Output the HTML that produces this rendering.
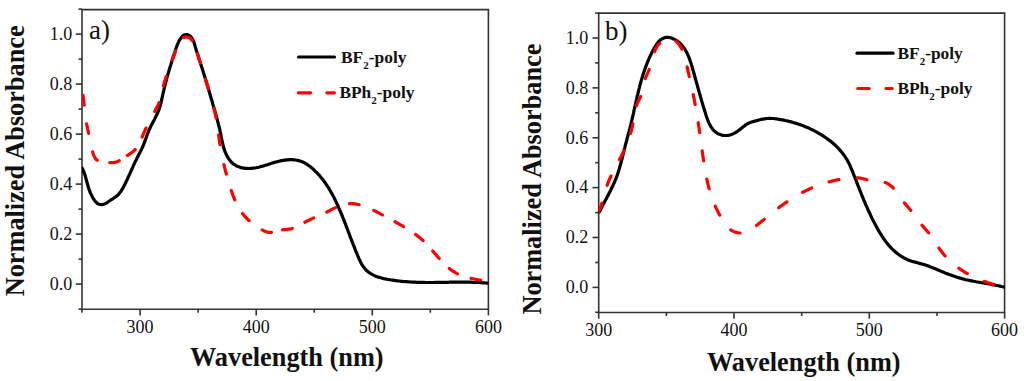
<!DOCTYPE html>
<html><head><meta charset="utf-8"><style>
html,body{margin:0;padding:0;background:#fff;width:1024px;height:381px;overflow:hidden}
svg{display:block}
text{font-family:"Liberation Serif",serif;fill:#111}
.tl{font-size:18px}
.ax{font-size:26.3px;font-weight:bold}
.lg{font-size:17.4px;font-weight:bold}
.pl{font-size:27px}
.bk{fill:none;stroke:#000;stroke-width:3.2;stroke-linecap:round;stroke-linejoin:round}
.rd{fill:none;stroke:#ff0000;stroke-width:3.2;stroke-linecap:round;stroke-linejoin:round}
</style></head><body>
<svg width="1024" height="381" viewBox="0 0 1024 381">
<defs><clipPath id="cl"><rect x="82" y="9" width="406.4" height="300.5"/></clipPath><clipPath id="cr"><rect x="598.7" y="13" width="405.9" height="299.5"/></clipPath></defs>
<rect width="1024" height="381" fill="#fff"/>
<path d="M82,9.6 H488.4 V309.2 H82 Z" fill="none" stroke="#333" stroke-width="1.6"/>
<path d="M78.5,309.1 H82" stroke="#333" stroke-width="1.6"/>
<path d="M75.8,284.1 H82" stroke="#333" stroke-width="1.6"/>
<text x="72.3" y="289.9" text-anchor="end" class="tl">0.0</text>
<path d="M78.5,259.1 H82" stroke="#333" stroke-width="1.6"/>
<path d="M75.8,234.1 H82" stroke="#333" stroke-width="1.6"/>
<text x="72.3" y="239.9" text-anchor="end" class="tl">0.2</text>
<path d="M78.5,209.1 H82" stroke="#333" stroke-width="1.6"/>
<path d="M75.8,184.1 H82" stroke="#333" stroke-width="1.6"/>
<text x="72.3" y="189.9" text-anchor="end" class="tl">0.4</text>
<path d="M78.5,159.1 H82" stroke="#333" stroke-width="1.6"/>
<path d="M75.8,134.1 H82" stroke="#333" stroke-width="1.6"/>
<text x="72.3" y="139.9" text-anchor="end" class="tl">0.6</text>
<path d="M78.5,109.1 H82" stroke="#333" stroke-width="1.6"/>
<path d="M75.8,84.1 H82" stroke="#333" stroke-width="1.6"/>
<text x="72.3" y="89.9" text-anchor="end" class="tl">0.8</text>
<path d="M78.5,59.1 H82" stroke="#333" stroke-width="1.6"/>
<path d="M75.8,34.1 H82" stroke="#333" stroke-width="1.6"/>
<text x="72.3" y="39.9" text-anchor="end" class="tl">1.0</text>
<path d="M78.5,9.1 H82" stroke="#333" stroke-width="1.6"/>
<path d="M140.1,309.2 V315.4" stroke="#333" stroke-width="1.6"/>
<text x="140.1" y="332.9" text-anchor="middle" class="tl">300</text>
<path d="M256.2,309.2 V315.4" stroke="#333" stroke-width="1.6"/>
<text x="256.2" y="332.9" text-anchor="middle" class="tl">400</text>
<path d="M372.3,309.2 V315.4" stroke="#333" stroke-width="1.6"/>
<text x="372.3" y="332.9" text-anchor="middle" class="tl">500</text>
<path d="M488.4,309.2 V315.4" stroke="#333" stroke-width="1.6"/>
<text x="488.4" y="332.9" text-anchor="middle" class="tl">600</text>
<path d="M82.0,309.2 V312.7" stroke="#333" stroke-width="1.6"/>
<path d="M198.1,309.2 V312.7" stroke="#333" stroke-width="1.6"/>
<path d="M314.2,309.2 V312.7" stroke="#333" stroke-width="1.6"/>
<path d="M430.3,309.2 V312.7" stroke="#333" stroke-width="1.6"/>
<path d="M598.7,13.1 H1004.6 V312.5 H598.7 Z" fill="none" stroke="#333" stroke-width="1.6"/>
<path d="M595.2,312.3 H598.7" stroke="#333" stroke-width="1.6"/>
<path d="M592.5,287.4 H598.7" stroke="#333" stroke-width="1.6"/>
<text x="588.3" y="293.2" text-anchor="end" class="tl">0.0</text>
<path d="M595.2,262.5 H598.7" stroke="#333" stroke-width="1.6"/>
<path d="M592.5,237.5 H598.7" stroke="#333" stroke-width="1.6"/>
<text x="588.3" y="243.3" text-anchor="end" class="tl">0.2</text>
<path d="M595.2,212.6 H598.7" stroke="#333" stroke-width="1.6"/>
<path d="M592.5,187.6 H598.7" stroke="#333" stroke-width="1.6"/>
<text x="588.3" y="193.4" text-anchor="end" class="tl">0.4</text>
<path d="M595.2,162.7 H598.7" stroke="#333" stroke-width="1.6"/>
<path d="M592.5,137.8 H598.7" stroke="#333" stroke-width="1.6"/>
<text x="588.3" y="143.6" text-anchor="end" class="tl">0.6</text>
<path d="M595.2,112.8 H598.7" stroke="#333" stroke-width="1.6"/>
<path d="M592.5,87.9 H598.7" stroke="#333" stroke-width="1.6"/>
<text x="588.3" y="93.7" text-anchor="end" class="tl">0.8</text>
<path d="M595.2,62.9 H598.7" stroke="#333" stroke-width="1.6"/>
<path d="M592.5,38.0 H598.7" stroke="#333" stroke-width="1.6"/>
<text x="588.3" y="43.8" text-anchor="end" class="tl">1.0</text>
<path d="M595.2,13.1 H598.7" stroke="#333" stroke-width="1.6"/>
<path d="M598.7,312.5 V318.7" stroke="#333" stroke-width="1.6"/>
<text x="598.7" y="336.3" text-anchor="middle" class="tl">300</text>
<path d="M734.0,312.5 V318.7" stroke="#333" stroke-width="1.6"/>
<text x="734.0" y="336.3" text-anchor="middle" class="tl">400</text>
<path d="M869.3,312.5 V318.7" stroke="#333" stroke-width="1.6"/>
<text x="869.3" y="336.3" text-anchor="middle" class="tl">500</text>
<path d="M1004.6,312.5 V318.7" stroke="#333" stroke-width="1.6"/>
<text x="1004.6" y="336.3" text-anchor="middle" class="tl">600</text>
<path d="M666.4,312.5 V316.0" stroke="#333" stroke-width="1.6"/>
<path d="M801.7,312.5 V316.0" stroke="#333" stroke-width="1.6"/>
<path d="M937.0,312.5 V316.0" stroke="#333" stroke-width="1.6"/>
<text class="pl" x="89" y="39">a)</text>
<text class="pl" x="605" y="39.5">b)</text>
<text class="ax" x="190" y="366.2">Wavelength (nm)</text>
<text class="ax" x="707" y="371.3">Wavelength (nm)</text>
<text class="ax" transform="translate(24.0,296.3) rotate(-90)">Normalized Absorbance</text>
<text class="ax" transform="translate(540.7,314.6) rotate(-90)">Normalized Absorbance</text>
<path class="bk" d="M298.5,57 H334.5"/>
<path class="rd" stroke-dasharray="12.3 16.2" d="M298.4,92.8 H334.4"/>
<text class="lg" x="341" y="62.6">BF<tspan font-size="11" dy="6">2</tspan><tspan dy="-6">-poly</tspan></text>
<text class="lg" x="339.4" y="98.1">BPh<tspan font-size="11" dy="6">2</tspan><tspan dy="-6">-poly</tspan></text>
<path class="bk" d="M857,53.2 H893"/>
<path class="rd" stroke-dasharray="11.4 16.8" d="M857.8,88.5 H892.2"/>
<text class="lg" x="897.4" y="58.6">BF<tspan font-size="11" dy="6">2</tspan><tspan dy="-6">-poly</tspan></text>
<text class="lg" x="897.4" y="94">BPh<tspan font-size="11" dy="6">2</tspan><tspan dy="-6">-poly</tspan></text>
<g clip-path="url(#cl)"><path class="bk" d="M82.0,167.8 L82.7,169.2 L83.3,170.6 L83.9,172.0 L84.4,173.4 L84.9,174.8 L85.3,176.2 L85.7,177.7 L86.1,179.1 L86.5,180.6 L86.9,182.0 L87.3,183.5 L87.7,184.9 L88.1,186.3 L88.5,187.8 L89.0,189.2 L89.5,190.6 L90.0,192.0 L90.6,193.4 L91.3,194.8 L92.0,196.1 L92.7,197.5 L93.5,198.8 L94.4,200.2 L95.4,201.4 L96.4,202.6 L97.5,203.5 L98.8,204.2 L100.1,204.5 L101.5,204.6 L103.0,204.4 L104.4,204.0 L105.8,203.4 L107.1,202.6 L108.4,201.7 L109.7,200.8 L111.0,199.9 L112.3,199.1 L113.6,198.2 L114.8,197.4 L116.0,196.6 L117.1,195.7 L118.2,194.7 L119.2,193.6 L120.1,192.4 L121.0,191.2 L121.8,189.9 L122.6,188.6 L123.3,187.3 L124.0,185.9 L124.7,184.6 L125.4,183.2 L126.1,181.8 L126.7,180.5 L127.4,179.1 L128.0,177.7 L128.6,176.4 L129.2,175.0 L129.9,173.6 L130.5,172.2 L131.1,170.9 L131.7,169.5 L132.3,168.1 L132.9,166.8 L133.5,165.4 L134.2,164.0 L134.8,162.7 L135.4,161.3 L136.1,160.0 L136.8,158.6 L137.5,157.3 L138.1,156.0 L138.8,154.6 L139.5,153.3 L140.2,151.9 L140.9,150.6 L141.6,149.2 L142.2,147.9 L142.8,146.5 L143.4,145.1 L144.0,143.7 L144.5,142.3 L145.0,140.9 L145.5,139.5 L146.0,138.1 L146.5,136.6 L147.0,135.2 L147.5,133.8 L148.1,132.4 L148.7,131.0 L149.2,129.7 L149.9,128.3 L150.5,126.9 L151.2,125.6 L151.9,124.2 L152.6,122.9 L153.3,121.6 L154.0,120.2 L154.7,118.9 L155.4,117.5 L156.0,116.2 L156.7,114.8 L157.3,113.5 L157.9,112.1 L158.5,110.7 L159.1,109.3 L159.6,107.9 L160.0,106.5 L160.4,105.0 L160.8,103.6 L161.2,102.1 L161.5,100.6 L161.8,99.2 L162.1,97.7 L162.5,96.2 L162.8,94.7 L163.1,93.2 L163.5,91.8 L163.8,90.3 L164.1,88.8 L164.5,87.4 L164.9,85.9 L165.2,84.5 L165.6,83.0 L166.0,81.6 L166.4,80.1 L166.7,78.7 L167.1,77.2 L167.5,75.8 L167.9,74.3 L168.4,72.9 L168.8,71.4 L169.2,70.0 L169.6,68.6 L170.0,67.1 L170.5,65.7 L170.9,64.3 L171.4,62.8 L171.8,61.4 L172.2,59.9 L172.7,58.5 L173.2,57.1 L173.6,55.6 L174.1,54.2 L174.6,52.8 L175.1,51.3 L175.5,49.9 L176.0,48.5 L176.5,47.0 L177.0,45.6 L177.6,44.2 L178.2,42.8 L178.8,41.4 L179.6,40.0 L180.4,38.7 L181.4,37.4 L182.5,36.2 L183.6,35.3 L184.9,34.8 L186.2,34.6 L187.6,34.7 L188.8,35.2 L190.0,35.9 L190.9,36.8 L191.8,37.9 L192.5,39.2 L193.2,40.5 L193.8,42.0 L194.3,43.5 L194.8,45.1 L195.2,46.7 L195.7,48.2 L196.1,49.8 L196.6,51.3 L197.1,52.7 L197.5,54.2 L198.0,55.6 L198.4,57.0 L198.9,58.5 L199.3,59.9 L199.8,61.3 L200.3,62.6 L200.7,64.0 L201.2,65.4 L201.6,66.8 L202.1,68.2 L202.5,69.6 L203.0,71.1 L203.4,72.5 L203.9,73.9 L204.3,75.3 L204.7,76.8 L205.2,78.2 L205.6,79.6 L206.1,81.1 L206.5,82.5 L206.9,84.0 L207.4,85.4 L207.8,86.9 L208.2,88.3 L208.7,89.8 L209.1,91.2 L209.5,92.7 L210.0,94.2 L210.4,95.6 L210.8,97.1 L211.2,98.5 L211.7,100.0 L212.1,101.4 L212.5,102.9 L212.9,104.4 L213.3,105.8 L213.8,107.3 L214.2,108.7 L214.6,110.2 L215.0,111.6 L215.4,113.1 L215.8,114.5 L216.2,115.9 L216.6,117.4 L217.0,118.8 L217.4,120.3 L217.8,121.7 L218.2,123.1 L218.5,124.6 L218.9,126.0 L219.3,127.5 L219.6,128.9 L219.9,130.4 L220.2,131.9 L220.6,133.4 L220.9,134.8 L221.1,136.3 L221.4,137.8 L221.7,139.3 L222.0,140.8 L222.3,142.3 L222.7,143.7 L223.0,145.2 L223.4,146.7 L223.8,148.1 L224.3,149.5 L224.8,151.0 L225.3,152.4 L225.9,153.7 L226.5,155.1 L227.3,156.4 L228.0,157.7 L228.9,159.0 L229.8,160.2 L230.7,161.4 L231.8,162.5 L232.9,163.5 L234.0,164.4 L235.3,165.2 L236.6,166.0 L238.0,166.6 L239.4,167.1 L240.9,167.6 L242.4,167.9 L243.9,168.2 L245.4,168.3 L246.9,168.4 L248.5,168.5 L250.0,168.4 L251.4,168.4 L252.9,168.2 L254.4,168.0 L255.9,167.8 L257.3,167.5 L258.8,167.2 L260.2,166.8 L261.7,166.4 L263.1,166.0 L264.5,165.6 L266.0,165.1 L267.4,164.7 L268.9,164.2 L270.3,163.7 L271.7,163.3 L273.2,162.8 L274.6,162.4 L276.1,162.0 L277.5,161.6 L279.0,161.2 L280.5,160.9 L282.0,160.6 L283.5,160.3 L285.0,160.1 L286.5,159.9 L288.0,159.8 L289.5,159.7 L291.0,159.7 L292.5,159.7 L294.0,159.8 L295.5,160.0 L297.0,160.3 L298.5,160.6 L299.9,161.0 L301.3,161.4 L302.7,162.0 L304.1,162.6 L305.4,163.3 L306.7,164.1 L307.9,165.0 L309.2,165.9 L310.4,166.8 L311.5,167.8 L312.7,168.7 L313.8,169.8 L314.9,170.8 L316.0,171.9 L317.1,172.9 L318.1,174.0 L319.1,175.1 L320.1,176.3 L321.0,177.4 L322.0,178.6 L322.9,179.8 L323.8,181.0 L324.7,182.2 L325.6,183.4 L326.4,184.6 L327.2,185.9 L328.1,187.1 L328.9,188.4 L329.6,189.7 L330.4,191.0 L331.1,192.3 L331.9,193.6 L332.6,194.9 L333.3,196.3 L334.0,197.6 L334.7,199.0 L335.3,200.3 L336.0,201.7 L336.6,203.1 L337.3,204.4 L337.9,205.8 L338.5,207.2 L339.1,208.6 L339.7,210.0 L340.3,211.3 L340.9,212.7 L341.5,214.1 L342.1,215.5 L342.6,216.9 L343.2,218.3 L343.7,219.7 L344.3,221.1 L344.8,222.5 L345.4,223.9 L345.9,225.3 L346.4,226.7 L347.0,228.1 L347.5,229.5 L348.0,230.9 L348.5,232.3 L349.1,233.7 L349.6,235.1 L350.1,236.5 L350.6,237.9 L351.2,239.2 L351.7,240.6 L352.2,242.0 L352.8,243.4 L353.3,244.8 L353.9,246.1 L354.4,247.5 L355.0,248.9 L355.5,250.4 L356.1,251.8 L356.7,253.2 L357.3,254.6 L357.9,256.1 L358.5,257.5 L359.1,259.0 L359.8,260.4 L360.5,261.9 L361.2,263.2 L362.0,264.6 L362.8,265.9 L363.7,267.1 L364.6,268.3 L365.5,269.4 L366.6,270.5 L367.6,271.4 L368.8,272.3 L369.9,273.2 L371.2,273.9 L372.4,274.6 L373.8,275.3 L375.1,275.9 L376.5,276.4 L377.9,276.9 L379.3,277.4 L380.8,277.8 L382.2,278.2 L383.7,278.6 L385.2,278.9 L386.7,279.2 L388.2,279.5 L389.8,279.7 L391.3,280.0 L392.8,280.2 L394.3,280.4 L395.8,280.6 L397.3,280.8 L398.8,281.0 L400.3,281.2 L401.8,281.3 L403.4,281.5 L404.9,281.6 L406.4,281.7 L407.9,281.8 L409.4,281.9 L410.9,282.0 L412.4,282.1 L413.9,282.2 L415.4,282.2 L416.9,282.3 L418.4,282.3 L419.9,282.4 L421.4,282.4 L422.9,282.4 L424.4,282.4 L425.9,282.5 L427.4,282.5 L428.9,282.5 L430.4,282.5 L431.9,282.5 L433.4,282.5 L434.9,282.4 L436.4,282.4 L437.8,282.4 L439.3,282.4 L440.8,282.4 L442.3,282.4 L443.8,282.3 L445.3,282.3 L446.8,282.3 L448.3,282.3 L449.8,282.2 L451.3,282.2 L452.8,282.2 L454.3,282.2 L455.8,282.2 L457.3,282.2 L458.8,282.1 L460.3,282.1 L461.8,282.1 L463.3,282.1 L464.8,282.2 L466.3,282.2 L467.8,282.2 L469.4,282.2 L470.9,282.2 L472.4,282.3 L473.9,282.3 L475.4,282.4 L476.9,282.4 L478.4,282.5 L479.9,282.6 L481.4,282.7 L483.0,282.8 L484.5,282.9 L486.0,283.0 L487.5,283.1"/>
<path class="rd" stroke-dasharray="9.80 18.83 9.80 18.84 9.80 13.02 9.80 9.63 9.80 14.42 9.80 18.85 9.80 17.32 9.80 17.37 9.80 16.14 9.80 14.26 9.80 17.03 9.80 20.47 9.80 17.26 9.80 20.37 9.80 17.30 9.80 15.76 9.80 15.98 9.80 11.30 9.80 14.22 9.80 14.37 9.80 14.53 9.80 15.75 9.80 14.32 9.80 14.32 9.80 14.26 9.80 14.29 9.80 14.31 9.80 760.22" stroke-dashoffset="1454.60" d="M82.3,91.0 L82.6,92.5 L82.8,94.0 L83.0,95.5 L83.2,97.0 L83.4,98.4 L83.6,99.9 L83.8,101.4 L83.9,102.9 L84.1,104.4 L84.2,105.9 L84.4,107.4 L84.5,108.9 L84.7,110.4 L84.9,111.9 L85.0,113.4 L85.2,114.9 L85.4,116.4 L85.6,117.9 L85.8,119.4 L86.1,120.9 L86.3,122.4 L86.6,123.9 L86.9,125.3 L87.2,126.8 L87.5,128.3 L87.9,129.8 L88.2,131.2 L88.5,132.7 L88.8,134.2 L89.1,135.6 L89.4,137.1 L89.7,138.5 L90.0,140.0 L90.3,141.4 L90.6,142.9 L90.9,144.4 L91.2,145.8 L91.5,147.3 L91.9,148.9 L92.3,150.4 L92.7,152.0 L93.1,153.5 L93.6,155.0 L94.3,156.4 L95.0,157.8 L95.8,159.0 L96.8,160.0 L97.9,160.8 L99.2,161.4 L100.6,161.9 L102.1,162.3 L103.6,162.5 L105.1,162.6 L106.7,162.7 L108.3,162.7 L109.8,162.7 L111.4,162.7 L112.9,162.6 L114.3,162.4 L115.8,162.1 L117.1,161.7 L118.5,161.1 L119.8,160.4 L121.1,159.7 L122.3,158.9 L123.6,158.0 L124.9,157.1 L126.1,156.3 L127.4,155.4 L128.7,154.6 L130.0,153.7 L131.3,152.9 L132.5,152.0 L133.6,151.0 L134.7,150.0 L135.7,148.9 L136.6,147.8 L137.4,146.5 L138.2,145.3 L138.9,143.9 L139.6,142.6 L140.2,141.2 L140.9,139.8 L141.5,138.4 L142.1,137.0 L142.7,135.6 L143.3,134.2 L143.9,132.8 L144.5,131.4 L145.2,130.1 L145.8,128.7 L146.4,127.3 L147.1,126.0 L147.7,124.6 L148.4,123.3 L149.0,121.9 L149.7,120.6 L150.4,119.3 L151.1,117.9 L151.8,116.6 L152.5,115.3 L153.2,113.9 L153.9,112.6 L154.7,111.3 L155.4,110.0 L156.1,108.6 L156.8,107.3 L157.5,106.0 L158.2,104.6 L158.8,103.2 L159.4,101.8 L159.9,100.4 L160.4,99.0 L160.8,97.6 L161.1,96.1 L161.5,94.7 L161.8,93.2 L162.1,91.7 L162.4,90.2 L162.7,88.8 L163.1,87.3 L163.4,85.8 L163.8,84.3 L164.2,82.9 L164.6,81.4 L165.1,80.0 L165.5,78.6 L166.0,77.1 L166.5,75.7 L167.0,74.3 L167.5,72.9 L168.1,71.4 L168.6,70.0 L169.1,68.6 L169.7,67.2 L170.2,65.8 L170.8,64.4 L171.3,63.0 L171.8,61.6 L172.3,60.2 L172.8,58.8 L173.3,57.4 L173.8,56.0 L174.3,54.6 L174.8,53.2 L175.3,51.8 L175.7,50.3 L176.2,48.8 L176.7,47.3 L177.2,45.9 L177.7,44.4 L178.3,43.0 L179.1,41.6 L180.0,40.4 L181.1,39.3 L182.3,38.3 L183.6,37.6 L185.0,37.2 L186.5,37.1 L187.9,37.2 L189.2,37.7 L190.3,38.4 L191.3,39.4 L192.2,40.5 L193.0,41.8 L193.7,43.2 L194.4,44.7 L195.0,46.2 L195.5,47.7 L196.1,49.2 L196.6,50.7 L197.0,52.2 L197.5,53.6 L198.0,55.1 L198.4,56.5 L198.8,57.9 L199.2,59.3 L199.7,60.7 L200.1,62.1 L200.5,63.5 L200.9,64.9 L201.3,66.4 L201.8,67.8 L202.2,69.2 L202.7,70.6 L203.1,72.0 L203.6,73.5 L204.0,74.9 L204.5,76.3 L205.0,77.8 L205.4,79.2 L205.9,80.7 L206.4,82.1 L206.8,83.6 L207.3,85.0 L207.8,86.5 L208.2,87.9 L208.7,89.4 L209.1,90.8 L209.6,92.3 L210.0,93.7 L210.4,95.2 L210.9,96.6 L211.3,98.1 L211.7,99.5 L212.1,101.0 L212.5,102.4 L212.9,103.9 L213.3,105.3 L213.6,106.8 L214.0,108.2 L214.3,109.7 L214.7,111.2 L215.0,112.6 L215.3,114.1 L215.6,115.5 L215.9,117.0 L216.2,118.5 L216.4,120.0 L216.7,121.4 L216.9,122.9 L217.1,124.4 L217.3,125.9 L217.6,127.4 L217.8,128.9 L218.0,130.4 L218.2,131.9 L218.4,133.4 L218.6,134.9 L218.8,136.4 L219.0,137.9 L219.2,139.4 L219.5,140.9 L219.7,142.4 L219.9,143.8 L220.2,145.3 L220.4,146.8 L220.7,148.3 L220.9,149.8 L221.2,151.3 L221.5,152.7 L221.8,154.2 L222.1,155.7 L222.4,157.2 L222.7,158.6 L223.0,160.1 L223.3,161.6 L223.6,163.1 L223.9,164.5 L224.3,166.0 L224.6,167.5 L225.0,168.9 L225.3,170.4 L225.7,171.8 L226.1,173.3 L226.5,174.7 L226.9,176.2 L227.3,177.6 L227.7,179.1 L228.1,180.5 L228.5,182.0 L229.0,183.4 L229.4,184.9 L229.9,186.3 L230.3,187.7 L230.8,189.2 L231.3,190.6 L231.8,192.0 L232.3,193.5 L232.8,194.9 L233.4,196.3 L233.9,197.7 L234.5,199.1 L235.1,200.5 L235.7,201.8 L236.4,203.2 L237.0,204.5 L237.7,205.9 L238.5,207.2 L239.2,208.5 L240.0,209.7 L240.8,211.0 L241.7,212.2 L242.5,213.4 L243.5,214.6 L244.4,215.8 L245.4,216.9 L246.4,218.0 L247.5,219.1 L248.6,220.2 L249.7,221.2 L250.8,222.2 L252.0,223.2 L253.2,224.1 L254.4,225.0 L255.7,225.9 L256.9,226.8 L258.2,227.6 L259.5,228.4 L260.8,229.2 L262.2,229.9 L263.5,230.6 L264.9,231.2 L266.3,231.7 L267.7,232.1 L269.1,232.3 L270.6,232.4 L272.0,232.3 L273.5,232.0 L275.0,231.7 L276.5,231.3 L278.0,230.9 L279.5,230.5 L281.0,230.1 L282.5,229.9 L284.1,229.7 L285.6,229.5 L287.1,229.4 L288.6,229.2 L290.0,229.0 L291.5,228.7 L292.9,228.3 L294.3,227.8 L295.6,227.3 L297.0,226.6 L298.3,225.9 L299.7,225.2 L301.0,224.5 L302.3,223.7 L303.6,223.0 L305.0,222.2 L306.3,221.5 L307.7,220.8 L309.0,220.2 L310.4,219.5 L311.8,218.9 L313.1,218.2 L314.5,217.6 L315.9,217.0 L317.3,216.4 L318.6,215.8 L320.0,215.2 L321.4,214.5 L322.7,213.9 L324.1,213.3 L325.4,212.6 L326.8,212.0 L328.1,211.3 L329.5,210.6 L330.8,209.9 L332.1,209.3 L333.5,208.6 L334.9,207.9 L336.3,207.3 L337.7,206.7 L339.1,206.1 L340.5,205.5 L342.0,205.0 L343.4,204.6 L344.9,204.2 L346.4,203.9 L347.9,203.7 L349.3,203.6 L350.8,203.5 L352.3,203.6 L353.8,203.7 L355.3,203.9 L356.8,204.2 L358.3,204.5 L359.7,204.9 L361.2,205.3 L362.6,205.7 L364.1,206.2 L365.5,206.7 L366.9,207.3 L368.3,207.8 L369.6,208.4 L371.0,209.1 L372.4,209.7 L373.7,210.4 L375.1,211.0 L376.4,211.7 L377.8,212.4 L379.1,213.1 L380.4,213.8 L381.8,214.6 L383.1,215.3 L384.4,216.0 L385.8,216.7 L387.1,217.4 L388.4,218.1 L389.7,218.8 L391.1,219.6 L392.4,220.3 L393.7,221.0 L395.0,221.7 L396.3,222.5 L397.7,223.2 L399.0,223.9 L400.3,224.7 L401.6,225.4 L402.9,226.2 L404.2,227.0 L405.5,227.7 L406.7,228.5 L408.0,229.3 L409.3,230.1 L410.5,230.9 L411.8,231.8 L413.0,232.6 L414.3,233.5 L415.5,234.4 L416.7,235.2 L417.9,236.2 L419.0,237.1 L420.2,238.1 L421.3,239.0 L422.5,240.0 L423.6,241.1 L424.6,242.1 L425.7,243.2 L426.8,244.3 L427.8,245.4 L428.8,246.5 L429.8,247.6 L430.8,248.8 L431.8,249.9 L432.8,251.1 L433.8,252.2 L434.8,253.4 L435.8,254.5 L436.8,255.7 L437.8,256.8 L438.8,258.0 L439.8,259.1 L440.8,260.2 L441.8,261.3 L442.8,262.4 L443.9,263.5 L444.9,264.5 L446.0,265.6 L447.1,266.6 L448.2,267.5 L449.4,268.5 L450.5,269.4 L451.7,270.3 L452.9,271.1 L454.2,271.9 L455.4,272.7 L456.7,273.4 L458.1,274.1 L459.4,274.7 L460.8,275.3 L462.2,275.8 L463.7,276.3 L465.1,276.8 L466.6,277.3 L468.1,277.7 L469.6,278.0 L471.1,278.4 L472.6,278.7 L474.2,279.0 L475.7,279.3 L477.2,279.5 L478.7,279.8 L480.2,280.0 L481.7,280.2 L483.1,280.4 L484.6,280.6 L486.0,280.7 L487.4,280.9"/></g>
<g clip-path="url(#cr)"><path class="bk" d="M599.5,211.8 L600.2,210.5 L600.8,209.1 L601.5,207.8 L602.2,206.4 L602.9,205.1 L603.6,203.8 L604.3,202.4 L605.0,201.1 L605.7,199.8 L606.4,198.4 L607.1,197.1 L607.8,195.7 L608.5,194.4 L609.2,193.1 L609.9,191.7 L610.6,190.4 L611.3,189.0 L611.9,187.7 L612.6,186.3 L613.2,184.9 L613.8,183.6 L614.5,182.2 L615.0,180.8 L615.6,179.4 L616.2,178.0 L616.7,176.6 L617.2,175.2 L617.7,173.8 L618.2,172.4 L618.6,170.9 L619.1,169.5 L619.5,168.1 L619.9,166.6 L620.3,165.2 L620.7,163.7 L621.1,162.3 L621.5,160.8 L621.9,159.3 L622.2,157.9 L622.6,156.4 L623.0,154.9 L623.3,153.5 L623.7,152.0 L624.0,150.6 L624.4,149.1 L624.8,147.6 L625.1,146.2 L625.5,144.7 L625.9,143.3 L626.3,141.8 L626.7,140.4 L627.0,138.9 L627.4,137.5 L627.8,136.0 L628.2,134.5 L628.6,133.1 L629.0,131.6 L629.4,130.2 L629.8,128.7 L630.1,127.3 L630.5,125.8 L630.9,124.4 L631.2,122.9 L631.6,121.4 L631.9,120.0 L632.3,118.5 L632.6,117.0 L632.9,115.6 L633.3,114.1 L633.6,112.6 L633.9,111.1 L634.2,109.7 L634.6,108.2 L634.9,106.7 L635.2,105.2 L635.6,103.8 L635.9,102.3 L636.2,100.8 L636.6,99.4 L636.9,97.9 L637.2,96.4 L637.6,94.9 L637.9,93.5 L638.3,92.0 L638.6,90.5 L639.0,89.1 L639.4,87.6 L639.7,86.2 L640.1,84.7 L640.5,83.3 L640.9,81.8 L641.3,80.4 L641.7,78.9 L642.2,77.5 L642.6,76.0 L643.0,74.6 L643.5,73.2 L644.0,71.8 L644.5,70.3 L645.0,68.9 L645.5,67.5 L646.0,66.1 L646.5,64.7 L647.1,63.3 L647.6,61.9 L648.2,60.5 L648.8,59.1 L649.4,57.7 L650.0,56.4 L650.7,55.0 L651.4,53.6 L652.0,52.3 L652.7,50.9 L653.5,49.6 L654.2,48.2 L655.0,46.9 L655.8,45.6 L656.6,44.3 L657.5,43.1 L658.4,41.9 L659.5,40.8 L660.6,39.8 L661.9,39.0 L663.2,38.3 L664.6,37.8 L666.0,37.4 L667.5,37.3 L669.0,37.5 L670.5,37.8 L672.0,38.3 L673.5,38.9 L674.9,39.6 L676.2,40.3 L677.4,41.2 L678.6,42.1 L679.7,43.0 L680.8,44.0 L681.8,45.1 L682.7,46.2 L683.6,47.4 L684.5,48.6 L685.2,49.8 L686.0,51.1 L686.7,52.4 L687.4,53.8 L688.0,55.2 L688.6,56.6 L689.2,58.0 L689.7,59.4 L690.2,60.9 L690.7,62.4 L691.2,63.9 L691.6,65.3 L692.1,66.8 L692.5,68.3 L692.9,69.8 L693.4,71.3 L693.8,72.7 L694.2,74.2 L694.6,75.7 L695.0,77.1 L695.4,78.6 L695.8,80.0 L696.2,81.4 L696.6,82.9 L697.0,84.3 L697.4,85.8 L697.8,87.2 L698.2,88.6 L698.6,90.0 L699.0,91.5 L699.4,92.9 L699.8,94.3 L700.2,95.7 L700.6,97.2 L701.0,98.6 L701.4,100.0 L701.8,101.4 L702.3,102.9 L702.7,104.3 L703.1,105.7 L703.6,107.2 L704.0,108.6 L704.4,110.1 L704.9,111.5 L705.4,113.0 L705.8,114.4 L706.3,115.9 L706.8,117.4 L707.3,118.8 L707.8,120.3 L708.4,121.7 L709.0,123.1 L709.7,124.5 L710.4,125.8 L711.1,127.1 L712.0,128.3 L712.9,129.5 L713.9,130.6 L715.0,131.6 L716.2,132.5 L717.5,133.3 L718.8,134.0 L720.3,134.6 L721.7,135.1 L723.2,135.4 L724.7,135.5 L726.2,135.5 L727.7,135.4 L729.2,135.1 L730.6,134.7 L732.0,134.2 L733.4,133.6 L734.8,132.9 L736.2,132.2 L737.5,131.3 L738.7,130.4 L739.9,129.5 L741.1,128.5 L742.3,127.6 L743.4,126.6 L744.6,125.7 L745.7,124.8 L747.0,124.0 L748.3,123.3 L749.6,122.8 L751.0,122.3 L752.4,121.8 L753.9,121.4 L755.4,121.0 L756.9,120.6 L758.3,120.2 L759.8,119.8 L761.3,119.4 L762.8,119.1 L764.3,118.9 L765.8,118.6 L767.3,118.5 L768.8,118.4 L770.3,118.4 L771.8,118.5 L773.3,118.5 L774.8,118.7 L776.3,118.8 L777.8,119.1 L779.2,119.3 L780.7,119.6 L782.2,119.8 L783.7,120.1 L785.2,120.5 L786.6,120.8 L788.1,121.1 L789.6,121.5 L791.0,121.9 L792.5,122.3 L793.9,122.7 L795.4,123.1 L796.8,123.6 L798.3,124.1 L799.7,124.5 L801.1,125.0 L802.5,125.6 L803.9,126.1 L805.3,126.7 L806.7,127.2 L808.1,127.8 L809.5,128.4 L810.8,129.1 L812.2,129.7 L813.5,130.4 L814.9,131.1 L816.2,131.8 L817.5,132.5 L818.8,133.3 L820.1,134.0 L821.4,134.8 L822.7,135.6 L824.0,136.5 L825.2,137.3 L826.5,138.2 L827.7,139.1 L828.9,140.0 L830.1,140.9 L831.3,141.8 L832.5,142.8 L833.6,143.8 L834.8,144.8 L835.9,145.9 L836.9,146.9 L838.0,148.0 L839.0,149.1 L840.0,150.2 L841.0,151.3 L842.0,152.5 L842.9,153.7 L843.8,154.9 L844.7,156.1 L845.5,157.3 L846.3,158.6 L847.1,159.9 L847.8,161.2 L848.5,162.5 L849.2,163.9 L849.8,165.2 L850.4,166.6 L851.0,168.0 L851.6,169.3 L852.2,170.7 L852.8,172.2 L853.3,173.6 L853.9,175.0 L854.4,176.4 L855.0,177.8 L855.5,179.2 L856.1,180.6 L856.6,182.1 L857.2,183.5 L857.7,184.9 L858.3,186.3 L858.8,187.7 L859.4,189.1 L859.9,190.5 L860.5,191.9 L861.1,193.3 L861.6,194.7 L862.2,196.1 L862.8,197.5 L863.3,198.9 L863.9,200.3 L864.5,201.7 L865.1,203.1 L865.7,204.5 L866.3,205.8 L866.9,207.2 L867.5,208.6 L868.1,210.0 L868.7,211.3 L869.4,212.7 L870.0,214.0 L870.6,215.4 L871.3,216.8 L871.9,218.1 L872.6,219.5 L873.3,220.8 L874.0,222.1 L874.7,223.5 L875.4,224.8 L876.1,226.1 L876.8,227.4 L877.5,228.8 L878.3,230.1 L879.0,231.4 L879.8,232.7 L880.6,233.9 L881.4,235.2 L882.2,236.5 L883.0,237.7 L883.9,239.0 L884.7,240.2 L885.6,241.4 L886.5,242.6 L887.5,243.8 L888.4,244.9 L889.4,246.1 L890.5,247.2 L891.5,248.3 L892.6,249.4 L893.7,250.4 L894.8,251.4 L896.0,252.4 L897.1,253.4 L898.4,254.3 L899.6,255.2 L900.9,256.1 L902.2,256.9 L903.5,257.7 L904.8,258.4 L906.2,259.0 L907.5,259.7 L908.9,260.2 L910.3,260.7 L911.8,261.2 L913.2,261.6 L914.6,262.0 L916.1,262.4 L917.5,262.8 L919.0,263.2 L920.4,263.6 L921.9,264.0 L923.3,264.4 L924.8,264.8 L926.2,265.3 L927.6,265.8 L929.0,266.3 L930.4,266.9 L931.8,267.4 L933.2,268.0 L934.6,268.6 L936.0,269.1 L937.4,269.7 L938.8,270.3 L940.2,270.9 L941.6,271.5 L943.0,272.0 L944.4,272.6 L945.8,273.2 L947.2,273.7 L948.6,274.3 L950.0,274.8 L951.5,275.3 L952.9,275.8 L954.3,276.3 L955.7,276.8 L957.2,277.3 L958.6,277.7 L960.0,278.1 L961.5,278.6 L962.9,278.9 L964.4,279.3 L965.8,279.7 L967.3,280.0 L968.8,280.3 L970.3,280.6 L971.7,280.9 L973.2,281.2 L974.7,281.5 L976.2,281.8 L977.7,282.0 L979.2,282.3 L980.6,282.5 L982.1,282.8 L983.6,283.0 L985.1,283.3 L986.6,283.5 L988.1,283.8 L989.6,284.0 L991.1,284.3 L992.5,284.6 L994.0,284.9 L995.5,285.2 L997.0,285.5 L998.5,285.8 L999.9,286.1 L1001.4,286.5 L1002.8,286.8 L1004.3,287.2"/>
<path class="rd" stroke-dasharray="10 18.5" stroke-dashoffset="1.5" d="M599.0,211.0 L599.6,209.6 L600.1,208.2 L600.7,206.8 L601.2,205.4 L601.6,204.0 L602.1,202.5 L602.5,201.1 L602.9,199.6 L603.3,198.2 L603.7,196.7 L604.1,195.3 L604.5,193.8 L604.9,192.3 L605.3,190.9 L605.8,189.4 L606.2,188.0 L606.7,186.6 L607.2,185.1 L607.7,183.7 L608.2,182.3 L608.8,181.0 L609.4,179.6 L610.0,178.2 L610.6,176.8 L611.2,175.5 L611.9,174.1 L612.5,172.8 L613.2,171.4 L613.9,170.1 L614.6,168.8 L615.3,167.4 L616.0,166.1 L616.7,164.8 L617.4,163.4 L618.1,162.1 L618.8,160.8 L619.5,159.4 L620.2,158.1 L620.9,156.7 L621.6,155.4 L622.2,154.0 L622.9,152.7 L623.5,151.3 L624.2,149.9 L624.8,148.6 L625.4,147.2 L626.0,145.8 L626.6,144.4 L627.1,143.0 L627.7,141.6 L628.2,140.2 L628.7,138.8 L629.2,137.4 L629.7,135.9 L630.2,134.5 L630.6,133.1 L631.1,131.6 L631.5,130.2 L631.8,128.7 L632.2,127.2 L632.5,125.8 L632.8,124.3 L633.1,122.8 L633.4,121.3 L633.6,119.8 L633.9,118.3 L634.1,116.8 L634.3,115.3 L634.5,113.8 L634.8,112.3 L635.1,110.8 L635.4,109.4 L635.8,107.9 L636.2,106.5 L636.7,105.1 L637.2,103.7 L637.8,102.3 L638.5,101.0 L639.2,99.6 L639.8,98.3 L640.5,96.9 L641.0,95.5 L641.6,94.1 L642.0,92.7 L642.3,91.2 L642.6,89.7 L642.9,88.2 L643.2,86.7 L643.5,85.2 L643.7,83.8 L644.1,82.3 L644.5,80.9 L644.9,79.4 L645.4,78.1 L646.0,76.7 L646.6,75.3 L647.2,74.0 L647.8,72.6 L648.4,71.3 L649.0,69.9 L649.5,68.5 L650.0,67.1 L650.5,65.6 L650.9,64.2 L651.3,62.7 L651.7,61.2 L652.1,59.7 L652.5,58.2 L652.9,56.7 L653.3,55.3 L653.8,53.8 L654.3,52.4 L654.8,51.0 L655.4,49.6 L656.0,48.3 L656.8,47.0 L657.6,45.7 L658.5,44.5 L659.5,43.4 L660.6,42.3 L661.8,41.3 L663.1,40.4 L664.5,39.7 L665.9,39.1 L667.3,38.6 L668.8,38.4 L670.2,38.4 L671.6,38.6 L672.9,39.1 L674.2,39.8 L675.5,40.7 L676.6,41.8 L677.7,42.9 L678.7,44.0 L679.5,45.3 L680.4,46.5 L681.1,47.8 L681.8,49.1 L682.4,50.5 L683.0,51.9 L683.5,53.3 L684.0,54.7 L684.5,56.2 L684.9,57.6 L685.3,59.1 L685.6,60.6 L686.0,62.1 L686.3,63.6 L686.7,65.1 L687.0,66.5 L687.3,68.0 L687.7,69.5 L688.0,71.0 L688.4,72.5 L688.7,73.9 L689.0,75.4 L689.4,76.9 L689.7,78.3 L690.0,79.8 L690.4,81.3 L690.7,82.7 L691.0,84.2 L691.3,85.6 L691.7,87.1 L692.0,88.6 L692.3,90.0 L692.6,91.5 L692.9,93.0 L693.2,94.4 L693.5,95.9 L693.8,97.4 L694.1,98.8 L694.4,100.3 L694.6,101.8 L694.9,103.3 L695.2,104.7 L695.4,106.2 L695.7,107.7 L696.0,109.2 L696.2,110.6 L696.5,112.1 L696.7,113.6 L697.0,115.1 L697.2,116.6 L697.5,118.1 L697.7,119.5 L697.9,121.0 L698.2,122.5 L698.4,124.0 L698.6,125.5 L698.9,127.0 L699.1,128.5 L699.3,130.0 L699.5,131.5 L699.8,133.0 L700.0,134.4 L700.2,135.9 L700.4,137.4 L700.6,138.9 L700.8,140.4 L701.0,141.9 L701.2,143.4 L701.4,144.9 L701.6,146.4 L701.8,147.9 L702.0,149.4 L702.2,150.9 L702.4,152.4 L702.6,153.9 L702.8,155.4 L703.0,156.9 L703.3,158.4 L703.5,159.8 L703.7,161.3 L703.9,162.8 L704.1,164.3 L704.4,165.8 L704.6,167.3 L704.9,168.8 L705.1,170.3 L705.4,171.7 L705.6,173.2 L705.9,174.7 L706.2,176.2 L706.5,177.6 L706.8,179.1 L707.1,180.6 L707.4,182.0 L707.8,183.5 L708.1,184.9 L708.5,186.4 L708.9,187.8 L709.3,189.3 L709.7,190.7 L710.1,192.1 L710.6,193.6 L711.0,195.0 L711.5,196.4 L712.0,197.8 L712.5,199.3 L713.0,200.7 L713.6,202.1 L714.1,203.5 L714.7,204.9 L715.3,206.2 L715.9,207.6 L716.6,209.0 L717.3,210.4 L717.9,211.7 L718.6,213.1 L719.4,214.4 L720.1,215.7 L720.9,217.1 L721.6,218.4 L722.4,219.7 L723.2,220.9 L724.0,222.2 L724.9,223.4 L725.7,224.7 L726.6,225.9 L727.5,227.0 L728.5,228.1 L729.6,229.1 L730.9,230.0 L732.2,230.8 L733.5,231.4 L735.0,232.0 L736.5,232.4 L738.0,232.8 L739.5,233.0 L741.0,233.0 L742.5,232.9 L743.9,232.7 L745.3,232.3 L746.7,231.8 L748.0,231.2 L749.3,230.5 L750.6,229.7 L751.9,228.9 L753.1,228.0 L754.3,227.1 L755.6,226.2 L756.8,225.2 L758.0,224.3 L759.2,223.3 L760.3,222.4 L761.5,221.4 L762.7,220.5 L763.9,219.5 L765.1,218.6 L766.2,217.6 L767.4,216.7 L768.6,215.7 L769.7,214.8 L770.9,213.9 L772.1,212.9 L773.2,212.0 L774.4,211.1 L775.6,210.2 L776.8,209.2 L778.0,208.3 L779.1,207.4 L780.3,206.5 L781.5,205.7 L782.7,204.8 L784.0,203.9 L785.2,203.0 L786.4,202.2 L787.6,201.3 L788.9,200.5 L790.2,199.6 L791.4,198.8 L792.7,198.0 L794.0,197.2 L795.3,196.4 L796.6,195.7 L797.9,194.9 L799.2,194.2 L800.5,193.4 L801.9,192.7 L803.2,192.0 L804.6,191.3 L805.9,190.6 L807.3,190.0 L808.6,189.3 L810.0,188.7 L811.4,188.1 L812.8,187.5 L814.1,186.9 L815.5,186.3 L816.9,185.8 L818.3,185.3 L819.7,184.8 L821.1,184.3 L822.5,183.8 L824.0,183.4 L825.4,182.9 L826.8,182.5 L828.3,182.1 L829.7,181.7 L831.1,181.3 L832.6,180.9 L834.1,180.6 L835.5,180.2 L837.0,179.9 L838.5,179.6 L840.0,179.3 L841.5,179.0 L843.0,178.7 L844.5,178.5 L846.0,178.2 L847.5,178.0 L849.0,177.9 L850.5,177.7 L852.0,177.6 L853.5,177.6 L855.0,177.6 L856.5,177.7 L858.0,177.8 L859.5,178.0 L860.9,178.2 L862.4,178.6 L863.8,178.9 L865.3,179.3 L866.7,179.7 L868.2,180.1 L869.6,180.4 L871.1,180.6 L872.6,180.8 L874.2,180.9 L875.7,181.0 L877.2,181.0 L878.7,181.2 L880.2,181.3 L881.7,181.5 L883.1,181.8 L884.5,182.3 L885.9,182.8 L887.3,183.4 L888.6,184.2 L889.8,185.0 L891.0,186.0 L892.2,186.9 L893.3,188.0 L894.4,189.1 L895.4,190.3 L896.3,191.4 L897.2,192.6 L898.1,193.9 L899.0,195.1 L899.8,196.4 L900.7,197.6 L901.5,198.9 L902.4,200.1 L903.3,201.3 L904.2,202.5 L905.1,203.7 L906.1,204.8 L907.0,206.0 L908.0,207.1 L909.0,208.3 L909.9,209.4 L910.9,210.6 L911.9,211.7 L912.8,212.9 L913.7,214.1 L914.6,215.3 L915.5,216.5 L916.4,217.7 L917.3,219.0 L918.2,220.2 L919.1,221.4 L920.0,222.6 L920.9,223.8 L921.8,225.0 L922.8,226.1 L923.8,227.3 L924.8,228.4 L925.8,229.5 L926.8,230.7 L927.7,231.8 L928.7,232.9 L929.7,234.1 L930.6,235.3 L931.5,236.5 L932.4,237.7 L933.2,239.0 L934.0,240.2 L934.8,241.5 L935.6,242.8 L936.4,244.1 L937.2,245.3 L938.0,246.6 L938.9,247.9 L939.7,249.1 L940.6,250.3 L941.5,251.5 L942.4,252.7 L943.4,253.9 L944.3,255.0 L945.3,256.2 L946.3,257.3 L947.4,258.4 L948.4,259.4 L949.5,260.5 L950.6,261.5 L951.7,262.5 L952.9,263.5 L954.0,264.5 L955.2,265.4 L956.4,266.4 L957.6,267.3 L958.8,268.2 L960.0,269.0 L961.2,269.9 L962.5,270.7 L963.8,271.5 L965.1,272.3 L966.4,273.1 L967.7,273.9 L969.0,274.6 L970.3,275.3 L971.7,276.0 L973.0,276.7 L974.4,277.3 L975.7,277.9 L977.1,278.5 L978.5,279.1 L979.9,279.7 L981.3,280.3 L982.7,280.8 L984.1,281.3 L985.5,281.8 L986.9,282.3 L988.3,282.8 L989.8,283.2 L991.2,283.7 L992.7,284.1 L994.1,284.5 L995.6,285.0 L997.0,285.3 L998.5,285.7 L999.9,286.1 L1001.4,286.5 L1002.8,286.8 L1004.3,287.2"/></g>
</svg>
</body></html>
